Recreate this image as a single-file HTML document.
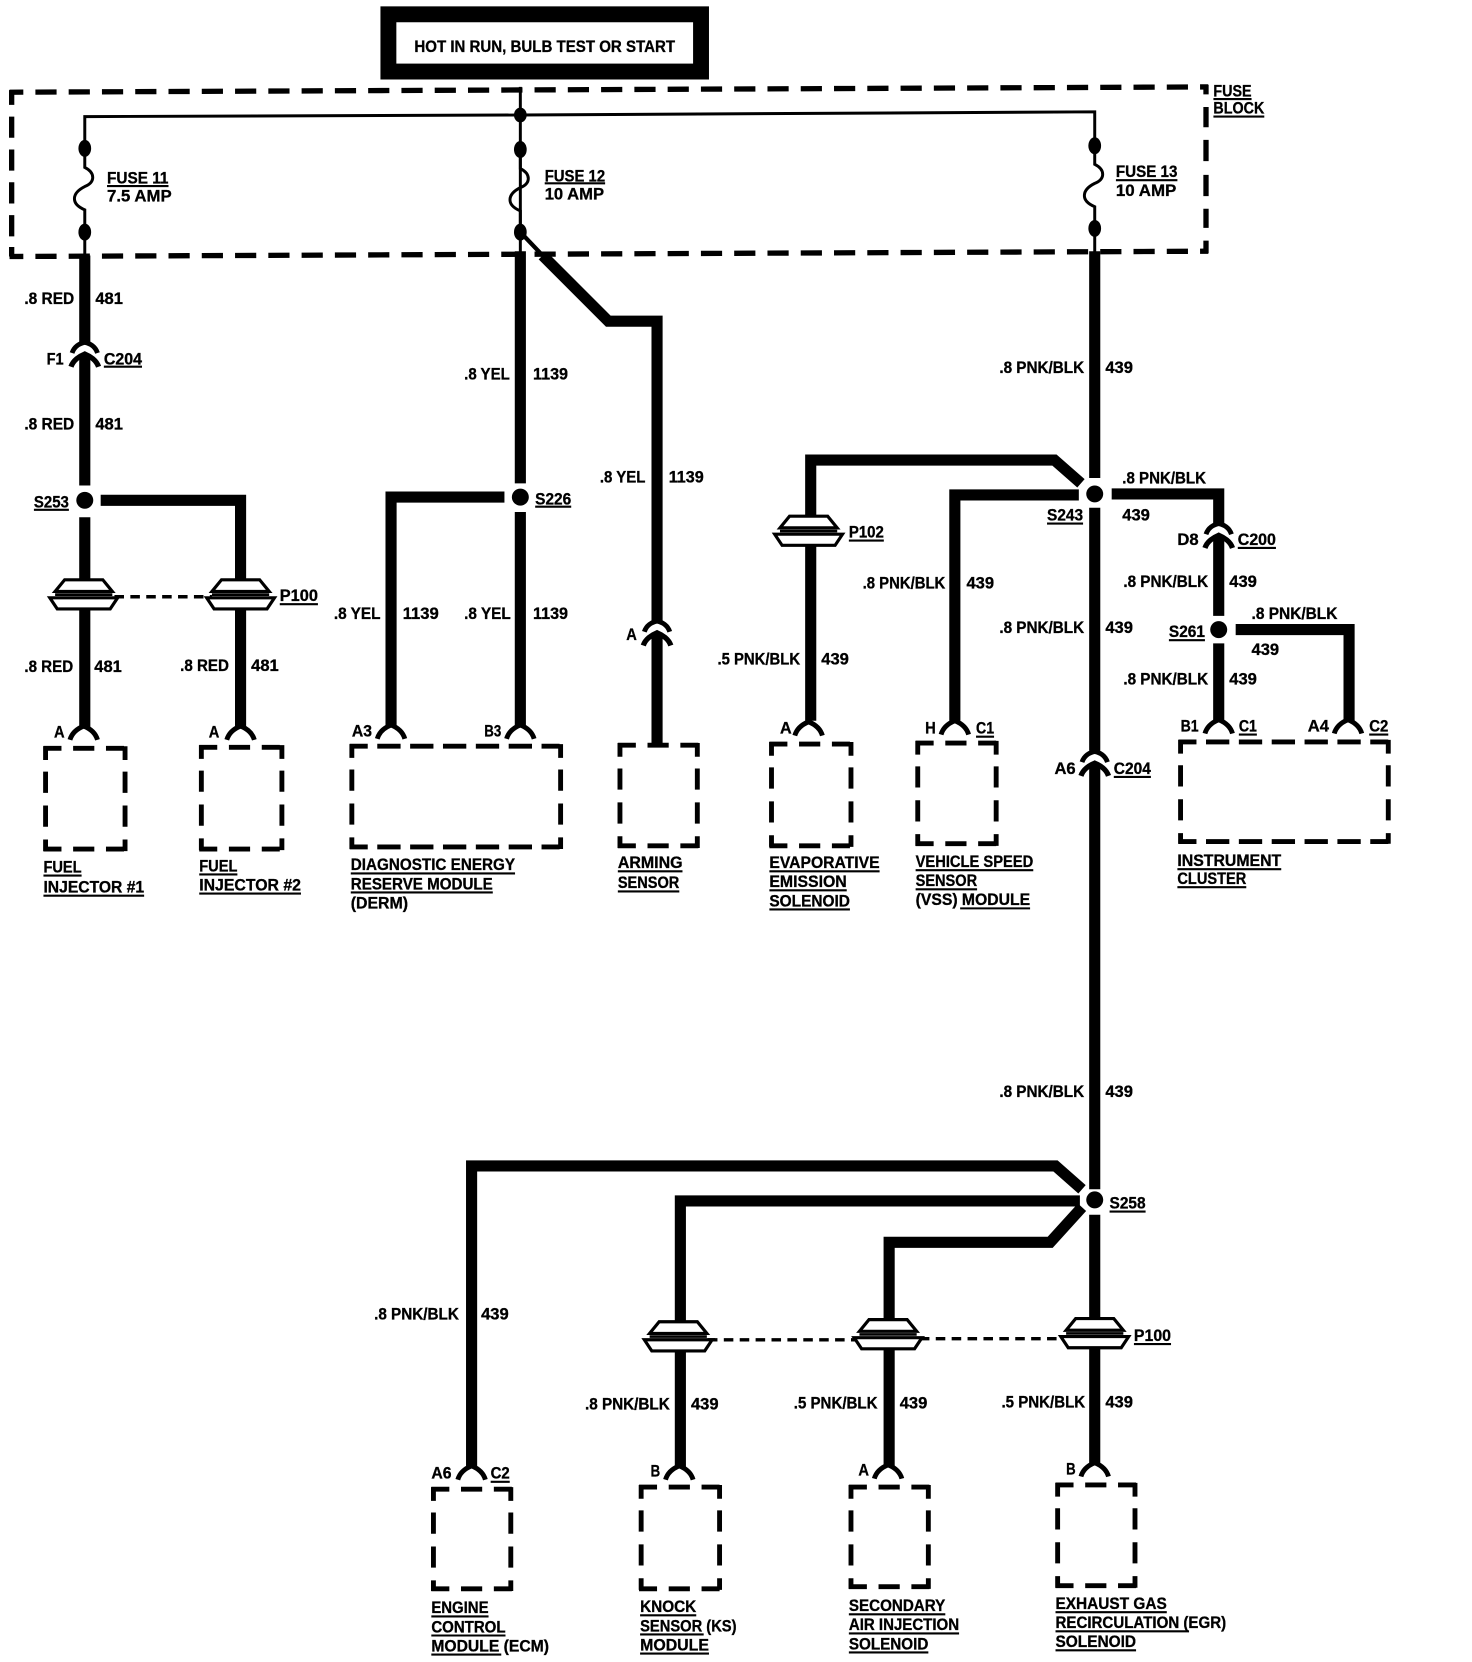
<!DOCTYPE html>
<html lang="en"><head><meta charset="utf-8"><title>Wiring diagram</title>
<style>
html,body{margin:0;padding:0;background:#fff}
svg{display:block}
text{font-family:"Liberation Sans",sans-serif;font-weight:700;font-size:15.5px;fill:#000;stroke:#000;stroke-width:.3}
.w{fill:none;stroke:#000;stroke-width:10.5;stroke-linejoin:miter}
.t{fill:none;stroke:#000;stroke-width:2.8}
.u{fill:none;stroke:#000;stroke-width:2}
.fb{fill:none;stroke:#000;stroke-width:5;stroke-dasharray:20 11.4}
.d{fill:none;stroke:#000;stroke-width:3.2;stroke-dasharray:9 6}
.bh{fill:none;stroke:#000;stroke-width:4.6;stroke-dasharray:17 11 20 11 17}
.bv{fill:none;stroke:#000;stroke-width:4.6;stroke-dasharray:13 11 20 12 20 12 11}
.bw{fill:none;stroke:#000;stroke-width:4.6;stroke-dasharray:17 9 22 9 22 9 22 9 22 9 22 9 17}
.a{fill:none;stroke:#000;stroke-width:4.6}
.p{fill:#fff;stroke:#000;stroke-width:3}
</style></head><body>
<svg xmlns="http://www.w3.org/2000/svg" width="1472" height="1662" viewBox="0 0 1389 1568" preserveAspectRatio="none">
<defs>
<g id="arch"><path class="a" d="M-13 13C-11 6-5 2 0 0C5 2 11 6 13 13"/></g>
<g id="inl"><path class="a" d="M-12 10C-10 4-5 1 0 0C5 1 10 4 12 10"/><path class="a" style="stroke-width:5" d="M-13 23C-11 17-5 13 0 11C5 13 11 17 13 23"/></g>
<g id="plug"><path class="p" d="M-18-14H18L27-3H-27Z"/><path class="p" d="M-32 3H32L25 13.5H-25Z"/><path d="M-27 0H27" stroke="#000" stroke-width="2.5"/></g>
<g id="fuse"><path class="t" d="M0-2V18C10 23 10 32 0 36C-12 42-14 52 0 58V78"/></g>
</defs>

<!-- header -->
<rect x="366.5" y="13.5" width="295" height="54" fill="#fff" stroke="#000" stroke-width="15"/>
<text x="391" y="49" textLength="246" lengthAdjust="spacingAndGlyphs" style="font-size:16px">HOT IN RUN, BULB TEST OR START</text>

<!-- fuse block -->
<path class="fb" style="stroke-dashoffset:7" d="M9 87L1140 82"/><path class="fb" style="stroke-dashoffset:7" d="M9 242L1140 237"/>
<path class="fb" d="M11 85V244" style="stroke-dasharray:14 11 20 11 20 11 20 11 20 10 9"/>
<path class="fb" d="M1138 80V239" style="stroke-dasharray:9 12 19 12 20 13 20 12 18 12 12"/>

<!-- bus -->
<path class="t" d="M491 82V219"/><path class="t" d="M80 140V110L491 108.5L1033 105.5V137"/>
<use href="#fuse" x="80" y="140"/><use href="#fuse" x="491" y="141"/><use href="#fuse" x="1033" y="137"/>
<path class="t" d="M80 219V243M491 219V240M1033 216V238"/>
<path class="t" d="M491 219L512 241" style="stroke-width:4"/>
<g>
<ellipse cx="491" cy="108.5" rx="6" ry="7"/>
<ellipse cx="80" cy="140" rx="6" ry="8"/><ellipse cx="80" cy="219" rx="6" ry="8"/>
<ellipse cx="491" cy="141" rx="6" ry="8"/><ellipse cx="491" cy="219" rx="6" ry="8"/>
<ellipse cx="1033" cy="137.500" rx="6" ry="8"/><ellipse cx="1033" cy="215.500" rx="6" ry="8"/>
</g>

<!-- wires -->
<path class="w" d="M80 241V323M80 334V458M80 488V547M80 574V686"/>
<path class="w" d="M95 472H227V547M227 574V686"/>
<path class="w" d="M491 237V456M491 483V686"/>
<path class="w" d="M476 469H369V686"/>
<path class="w" d="M512 241L574 303H620V586M620 598V702"/>
<path class="w" d="M1033 237V451M1033 479V708M1033 720V1122M1033 1146V1245M1033 1271V1381"/>
<path class="w" d="M1020 456L995 434H765V488M765 514V680"/>
<path class="w" d="M1018 467H901V680"/>
<path class="w" d="M1049 466H1150V494M1150 506V581M1150 607V680"/>
<path class="w" d="M1166 594H1273V680"/>
<path class="w" d="M1021 1122L996 1100H445V1384"/>
<path class="w" d="M1019 1133H642V1248M642 1274V1384"/>
<path class="w" d="M1021 1139L991 1172H839V1245M839 1272V1384"/>

<!-- splice dots -->
<ellipse cx="80" cy="472" rx="8" ry="8"/><ellipse cx="491" cy="469" rx="8" ry="8"/>
<ellipse cx="1033" cy="466" rx="8" ry="8"/><ellipse cx="1150" cy="594" rx="8" ry="8"/>
<ellipse cx="1033" cy="1132" rx="8" ry="8"/>

<!-- dashed plug links -->
<path class="d" d="M108 563H200"/><path class="d" d="M668 1264H812"/><path class="d" d="M868 1263H1005"/>

<!-- plugs -->
<use href="#plug" x="79" y="561"/><use href="#plug" x="227" y="561"/><use href="#plug" x="763" y="501"/>
<use href="#plug" x="640" y="1261"/><use href="#plug" x="838" y="1259"/><use href="#plug" x="1033" y="1258"/>

<!-- inline connectors -->
<use href="#inl" x="80" y="323"/><use href="#inl" x="620" y="586"/><use href="#inl" x="1150" y="494"/><use href="#inl" x="1033" y="709"/>

<!-- end connectors -->
<use href="#arch" x="79" y="685"/><use href="#arch" x="227" y="685"/><use href="#arch" x="369" y="684"/><use href="#arch" x="491" y="684"/>
<use href="#arch" x="763" y="681"/><use href="#arch" x="901" y="680"/><use href="#arch" x="1150" y="679"/><use href="#arch" x="1272" y="679"/>
<use href="#arch" x="445" y="1383"/><use href="#arch" x="641" y="1383"/><use href="#arch" x="838" y="1382"/><use href="#arch" x="1033" y="1380"/>

<!-- component boxes -->
<path class="bh" d="M41 706H120M41 801H120"/><path class="bv" d="M43 704V803M118 704V803"/>
<path class="bh" d="M188 705H268M188 801H268"/><path class="bv" d="M190 703V803M266 703V803"/>
<path class="bw" d="M330 704H531M330 799H531"/><path class="bv" d="M332 702V801M529 702V801"/>
<path class="bh" d="M583 703H660M583 798H660"/><path class="bv" d="M585 701V800M658 701V800"/>
<path class="bh" d="M726 702H805M726 798H805"/><path class="bv" d="M728 700V800M803 700V800"/>
<path class="bh" d="M864 701H942M864 796H942"/><path class="bv" d="M866 699V798M940 699V798"/>
<path class="bw" d="M1112 700H1312M1112 794H1312"/><path class="bv" d="M1114 698V796M1310 698V796"/>
<path class="bh" d="M407 1405H484M407 1499H484"/><path class="bv" d="M409 1403V1501M482 1403V1501"/>
<path class="bh" d="M603 1403H681M603 1499H681"/><path class="bv" d="M605 1401V1501M679 1401V1501"/>
<path class="bh" d="M801 1403H878M801 1497H878"/><path class="bv" d="M803 1401V1499M876 1401V1499"/>
<path class="bh" d="M996 1401H1073M996 1496H1073"/><path class="bv" d="M998 1399V1498M1071 1399V1498"/>

<!-- underlines -->
<path class="u" d="M1145 93.500H1181M1145 110H1193M101 175.500H159M514 173H571M1053 170H1111M98 346H134M32 481H65M505 478H539M988 494H1022M801 510H834M1168 517H1204M1103 604H1137M264 570H300M921 695H938M1051 733H1086M1169 693H1186M1292 693H1310M41 826H77M41 845H136M188 825H224M188 843H284M331 824H486M331 842H465M583 822H644M583 841H641M726 822H830M726 840H799M726 858H802M864 821H975M864 839H922M906 857H972M1111 820H1209M1111 837H1176M1047 1143H1081M1070 1268H1105M463 1398H481M407 1525H461M407 1543H477M407 1561H473M604 1524H657M604 1542H664M604 1560H669M801 1523H892M801 1541H905M801 1559H876M996 1521H1101M996 1539H1122M996 1557H1072"/>

<!-- labels -->
<g>
<text x="1145" y="91" textLength="36" lengthAdjust="spacingAndGlyphs">FUSE</text>
<text x="1145" y="107" textLength="48" lengthAdjust="spacingAndGlyphs">BLOCK</text>
<text x="101" y="173" textLength="58" lengthAdjust="spacingAndGlyphs">FUSE 11</text>
<text x="101" y="190" textLength="61" lengthAdjust="spacingAndGlyphs">7.5 AMP</text>
<text x="514" y="171" textLength="57" lengthAdjust="spacingAndGlyphs">FUSE 12</text>
<text x="514" y="188" textLength="56" lengthAdjust="spacingAndGlyphs">10 AMP</text>
<text x="1053" y="167" textLength="58" lengthAdjust="spacingAndGlyphs">FUSE 13</text>
<text x="1053" y="185" textLength="57" lengthAdjust="spacingAndGlyphs">10 AMP</text>

<text x="23" y="287" textLength="47" lengthAdjust="spacingAndGlyphs">.8 RED</text><text x="90" y="287" textLength="26" lengthAdjust="spacingAndGlyphs">481</text>
<text x="44" y="344" textLength="16" lengthAdjust="spacingAndGlyphs">F1</text><text x="98" y="344" textLength="36" lengthAdjust="spacingAndGlyphs">C204</text>
<text x="23" y="405" textLength="47" lengthAdjust="spacingAndGlyphs">.8 RED</text><text x="90" y="405" textLength="26" lengthAdjust="spacingAndGlyphs">481</text>
<text x="32" y="479" textLength="33" lengthAdjust="spacingAndGlyphs">S253</text>
<text x="505" y="476" textLength="34" lengthAdjust="spacingAndGlyphs">S226</text>
<text x="438" y="358" textLength="43" lengthAdjust="spacingAndGlyphs">.8 YEL</text><text x="503" y="358" textLength="33" lengthAdjust="spacingAndGlyphs">1139</text>
<text x="566" y="455" textLength="43" lengthAdjust="spacingAndGlyphs">.8 YEL</text><text x="631" y="455" textLength="33" lengthAdjust="spacingAndGlyphs">1139</text>
<text x="943" y="352" textLength="80" lengthAdjust="spacingAndGlyphs">.8 PNK/BLK</text><text x="1043" y="352" textLength="26" lengthAdjust="spacingAndGlyphs">439</text>
<text x="1059" y="456" textLength="79" lengthAdjust="spacingAndGlyphs">.8 PNK/BLK</text><text x="1059" y="491" textLength="26" lengthAdjust="spacingAndGlyphs">439</text>
<text x="988" y="491" textLength="34" lengthAdjust="spacingAndGlyphs">S243</text>
<text x="801" y="507" textLength="33" lengthAdjust="spacingAndGlyphs">P102</text>
<text x="1111" y="514" textLength="20" lengthAdjust="spacingAndGlyphs">D8</text><text x="1168" y="514" textLength="36" lengthAdjust="spacingAndGlyphs">C200</text>
<text x="814" y="555" textLength="78" lengthAdjust="spacingAndGlyphs">.8 PNK/BLK</text><text x="912" y="555" textLength="26" lengthAdjust="spacingAndGlyphs">439</text>
<text x="943" y="597" textLength="80" lengthAdjust="spacingAndGlyphs">.8 PNK/BLK</text><text x="1043" y="597" textLength="26" lengthAdjust="spacingAndGlyphs">439</text>
<text x="1060" y="554" textLength="80" lengthAdjust="spacingAndGlyphs">.8 PNK/BLK</text><text x="1160" y="554" textLength="26" lengthAdjust="spacingAndGlyphs">439</text>
<text x="1181" y="584" textLength="81" lengthAdjust="spacingAndGlyphs">.8 PNK/BLK</text>
<text x="1103" y="601" textLength="34" lengthAdjust="spacingAndGlyphs">S261</text>
<text x="1181" y="618" textLength="26" lengthAdjust="spacingAndGlyphs">439</text>
<text x="1060" y="646" textLength="80" lengthAdjust="spacingAndGlyphs">.8 PNK/BLK</text><text x="1160" y="646" textLength="26" lengthAdjust="spacingAndGlyphs">439</text>
<text x="677" y="627" textLength="78" lengthAdjust="spacingAndGlyphs">.5 PNK/BLK</text><text x="775" y="627" textLength="26" lengthAdjust="spacingAndGlyphs">439</text>
<text x="23" y="634" textLength="46" lengthAdjust="spacingAndGlyphs">.8 RED</text><text x="89" y="634" textLength="26" lengthAdjust="spacingAndGlyphs">481</text>
<text x="170" y="633" textLength="46" lengthAdjust="spacingAndGlyphs">.8 RED</text><text x="237" y="633" textLength="26" lengthAdjust="spacingAndGlyphs">481</text>
<text x="264" y="567" textLength="36" lengthAdjust="spacingAndGlyphs">P100</text>
<text x="315" y="584" textLength="44" lengthAdjust="spacingAndGlyphs">.8 YEL</text><text x="380" y="584" textLength="34" lengthAdjust="spacingAndGlyphs">1139</text>
<text x="438" y="584" textLength="44" lengthAdjust="spacingAndGlyphs">.8 YEL</text><text x="503" y="584" textLength="33" lengthAdjust="spacingAndGlyphs">1139</text>

<text x="591" y="604" textLength="10" lengthAdjust="spacingAndGlyphs">A</text>
<text x="51" y="696" textLength="10" lengthAdjust="spacingAndGlyphs">A</text>
<text x="197" y="696" textLength="10" lengthAdjust="spacingAndGlyphs">A</text>
<text x="332" y="695" textLength="19" lengthAdjust="spacingAndGlyphs">A3</text>
<text x="457" y="695" textLength="16" lengthAdjust="spacingAndGlyphs">B3</text>
<text x="736" y="692" textLength="11" lengthAdjust="spacingAndGlyphs">A</text>
<text x="873" y="692" textLength="10" lengthAdjust="spacingAndGlyphs">H</text>
<text x="921" y="692" textLength="17" lengthAdjust="spacingAndGlyphs">C1</text>
<text x="995" y="730" textLength="20" lengthAdjust="spacingAndGlyphs">A6</text>
<text x="1051" y="730" textLength="35" lengthAdjust="spacingAndGlyphs">C204</text>
<text x="1114" y="690" textLength="17" lengthAdjust="spacingAndGlyphs">B1</text>
<text x="1169" y="690" textLength="17" lengthAdjust="spacingAndGlyphs">C1</text>
<text x="1234" y="690" textLength="20" lengthAdjust="spacingAndGlyphs">A4</text>
<text x="1292" y="690" textLength="18" lengthAdjust="spacingAndGlyphs">C2</text>

<text x="41" y="823" textLength="36" lengthAdjust="spacingAndGlyphs">FUEL</text>
<text x="41" y="842" textLength="95" lengthAdjust="spacingAndGlyphs">INJECTOR #1</text>
<text x="188" y="822" textLength="36" lengthAdjust="spacingAndGlyphs">FUEL</text>
<text x="188" y="840" textLength="96" lengthAdjust="spacingAndGlyphs">INJECTOR #2</text>
<text x="331" y="821" textLength="155" lengthAdjust="spacingAndGlyphs">DIAGNOSTIC ENERGY</text>
<text x="331" y="839" textLength="134" lengthAdjust="spacingAndGlyphs">RESERVE MODULE</text>
<text x="331" y="857" textLength="54" lengthAdjust="spacingAndGlyphs">(DERM)</text>
<text x="583" y="819" textLength="61" lengthAdjust="spacingAndGlyphs">ARMING</text>
<text x="583" y="838" textLength="58" lengthAdjust="spacingAndGlyphs">SENSOR</text>
<text x="726" y="819" textLength="104" lengthAdjust="spacingAndGlyphs">EVAPORATIVE</text>
<text x="726" y="837" textLength="73" lengthAdjust="spacingAndGlyphs">EMISSION</text>
<text x="726" y="855" textLength="76" lengthAdjust="spacingAndGlyphs">SOLENOID</text>
<text x="864" y="818" textLength="111" lengthAdjust="spacingAndGlyphs">VEHICLE SPEED</text>
<text x="864" y="836" textLength="58" lengthAdjust="spacingAndGlyphs">SENSOR</text>
<text x="864" y="854" textLength="108" lengthAdjust="spacingAndGlyphs">(VSS) MODULE</text>
<text x="1111" y="817" textLength="98" lengthAdjust="spacingAndGlyphs">INSTRUMENT</text>
<text x="1111" y="834" textLength="65" lengthAdjust="spacingAndGlyphs">CLUSTER</text>

<text x="943" y="1035" textLength="80" lengthAdjust="spacingAndGlyphs">.8 PNK/BLK</text><text x="1043" y="1035" textLength="26" lengthAdjust="spacingAndGlyphs">439</text>
<text x="1047" y="1140" textLength="34" lengthAdjust="spacingAndGlyphs">S258</text>
<text x="353" y="1245" textLength="80" lengthAdjust="spacingAndGlyphs">.8 PNK/BLK</text><text x="454" y="1245" textLength="26" lengthAdjust="spacingAndGlyphs">439</text>
<text x="1070" y="1265" textLength="35" lengthAdjust="spacingAndGlyphs">P100</text>
<text x="552" y="1330" textLength="80" lengthAdjust="spacingAndGlyphs">.8 PNK/BLK</text><text x="652" y="1330" textLength="26" lengthAdjust="spacingAndGlyphs">439</text>
<text x="749" y="1329" textLength="79" lengthAdjust="spacingAndGlyphs">.5 PNK/BLK</text><text x="849" y="1329" textLength="26" lengthAdjust="spacingAndGlyphs">439</text>
<text x="945" y="1328" textLength="79" lengthAdjust="spacingAndGlyphs">.5 PNK/BLK</text><text x="1043" y="1328" textLength="26" lengthAdjust="spacingAndGlyphs">439</text>
<text x="407" y="1395" textLength="19" lengthAdjust="spacingAndGlyphs">A6</text>
<text x="463" y="1395" textLength="18" lengthAdjust="spacingAndGlyphs">C2</text>
<text x="614" y="1393" textLength="9" lengthAdjust="spacingAndGlyphs">B</text>
<text x="810" y="1392" textLength="10" lengthAdjust="spacingAndGlyphs">A</text>
<text x="1006" y="1391" textLength="9" lengthAdjust="spacingAndGlyphs">B</text>

<text x="407" y="1522" textLength="54" lengthAdjust="spacingAndGlyphs">ENGINE</text>
<text x="407" y="1540" textLength="70" lengthAdjust="spacingAndGlyphs">CONTROL</text>
<text x="407" y="1558" textLength="111" lengthAdjust="spacingAndGlyphs">MODULE (ECM)</text>
<text x="604" y="1521" textLength="53" lengthAdjust="spacingAndGlyphs">KNOCK</text>
<text x="604" y="1539" textLength="91" lengthAdjust="spacingAndGlyphs">SENSOR (KS)</text>
<text x="604" y="1557" textLength="65" lengthAdjust="spacingAndGlyphs">MODULE</text>
<text x="801" y="1520" textLength="91" lengthAdjust="spacingAndGlyphs">SECONDARY</text>
<text x="801" y="1538" textLength="104" lengthAdjust="spacingAndGlyphs">AIR INJECTION</text>
<text x="801" y="1556" textLength="75" lengthAdjust="spacingAndGlyphs">SOLENOID</text>
<text x="996" y="1518" textLength="105" lengthAdjust="spacingAndGlyphs">EXHAUST GAS</text>
<text x="996" y="1536" textLength="161" lengthAdjust="spacingAndGlyphs">RECIRCULATION (EGR)</text>
<text x="996" y="1554" textLength="76" lengthAdjust="spacingAndGlyphs">SOLENOID</text>
</g>
</svg>
</body></html>
